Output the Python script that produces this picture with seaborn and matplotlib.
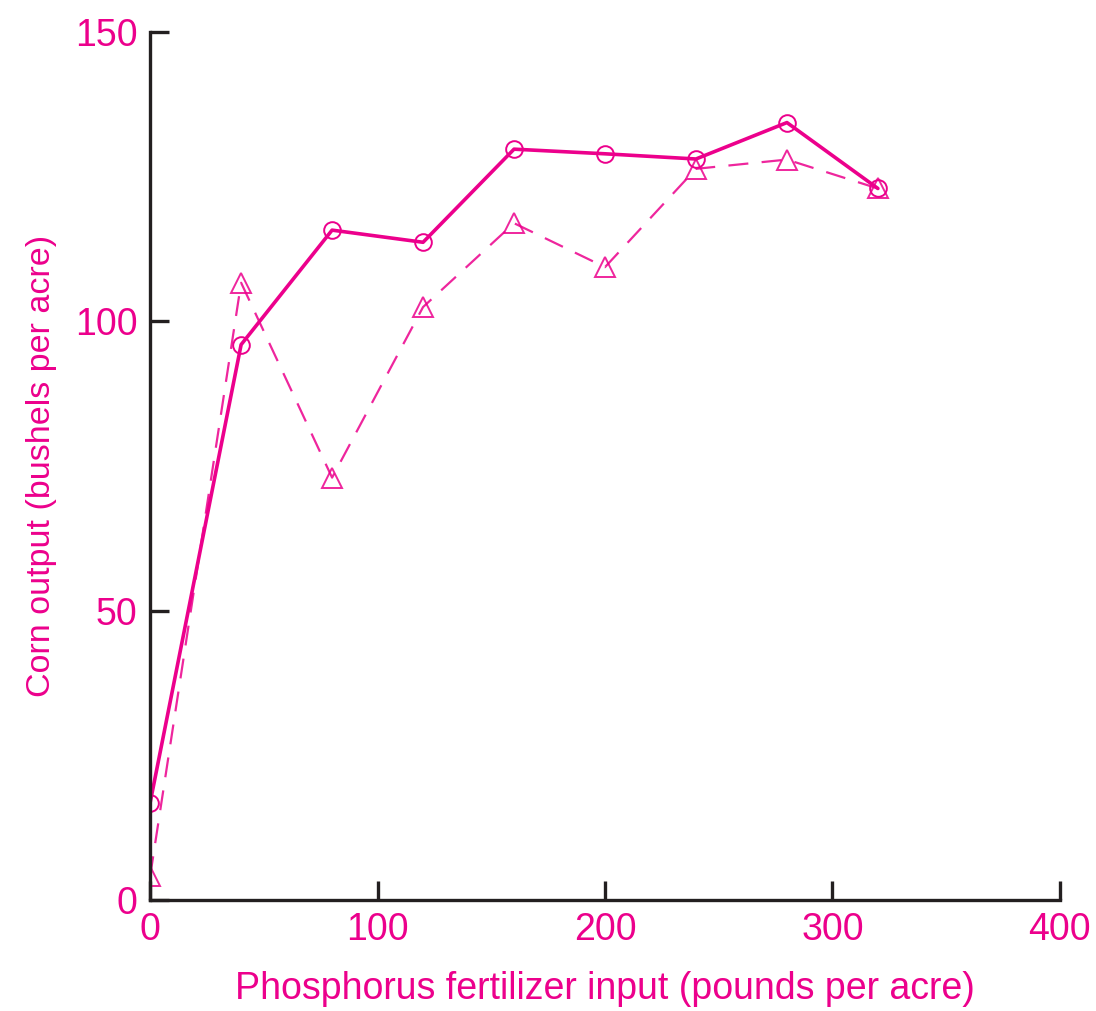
import matplotlib
matplotlib.use("Agg")
import matplotlib.pyplot as plt
import seaborn as sns
import pandas as pd

phosphorus = [0, 40, 80, 120, 160, 200, 240, 280, 320]
corn_circle = [16.8, 96.0, 115.8, 113.7, 129.8, 129.0, 128.1, 134.4, 123.0]
corn_triangle = [4.1, 106.7, 73.0, 102.5, 117.0, 109.4, 126.4, 128.0, 123.0]
xticks = [0, 100, 200, 300, 400]
yticks = [0, 50, 100, 150]

MAG = "#ec008c"
DARK = "#231f20"

sns.set_theme(style="white")
plt.rcParams['font.family'] = ['Liberation Sans', 'DejaVu Sans']

df = pd.DataFrame({
    "x": phosphorus * 2,
    "y": corn_circle + corn_triangle,
    "series": ["circle"] * len(phosphorus) + ["triangle"] * len(phosphorus),
})

fig = plt.figure(figsize=(10.96, 10.11), dpi=100)
ax = fig.add_axes([0.137, 0.11, 0.83, 0.858])

sns.lineplot(data=df[df.series == "triangle"], x="x", y="y", ax=ax, color=MAG,
             lw=1.6, linestyle=(0, (9, 6)), marker="^", markersize=14,
             markerfacecolor="none", markeredgecolor=MAG, markeredgewidth=1.4,
             alpha=0.85, legend=False)
sns.lineplot(data=df[df.series == "circle"], x="x", y="y", ax=ax, color=MAG,
             lw=2.6, marker="o", markersize=12, markerfacecolor="none",
             markeredgecolor=MAG, markeredgewidth=1.4, legend=False)

ax.set_xlim(0, 400)
ax.set_ylim(0, 150)
ax.set_xticks(xticks)
ax.set_yticks(yticks)
ax.set_xticklabels([str(t) for t in xticks])
ax.set_yticklabels([str(t) for t in yticks])
ax.tick_params(axis="both", which="major", bottom=True, left=True,
               direction="in", length=14, width=2.4, color=DARK,
               labelcolor=MAG, labelsize=27, pad=9)
for s in ["top", "right"]:
    ax.spines[s].set_visible(False)
for s in ["left", "bottom"]:
    ax.spines[s].set_color(DARK)
    ax.spines[s].set_linewidth(2.4)
ax.set_xlabel("Phosphorus fertilizer input (pounds per acre)", color=MAG, fontsize=27, labelpad=16)
ax.set_ylabel("Corn output (bushels per acre)", color=MAG, fontsize=24.5, labelpad=13)
ax.grid(False)

fig.savefig("out.png", dpi=100)
